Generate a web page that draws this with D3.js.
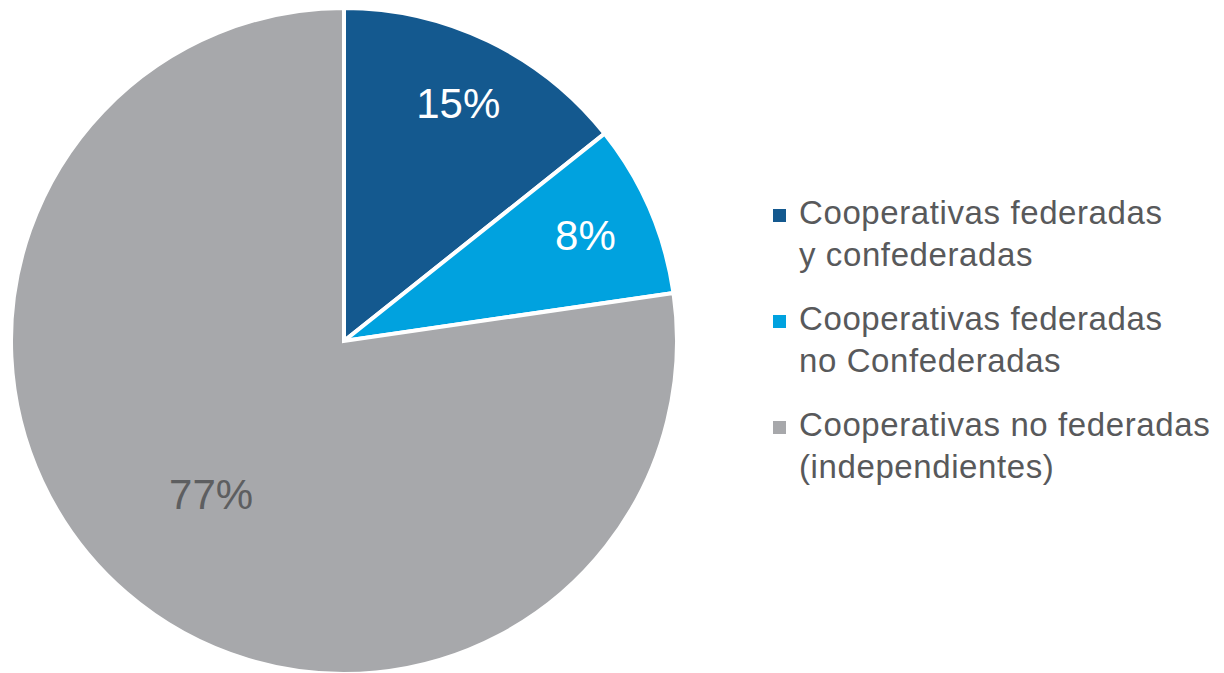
<!DOCTYPE html>
<html>
<head>
<meta charset="utf-8">
<script src="https://cdn.jsdelivr.net/npm/d3@7"></script>
<style>
  body { margin: 0; background: #fff; }
  svg { display: block; font-family: "Liberation Sans", Arial, Helvetica, sans-serif; }
</style>
</head>
<body>
<svg id="chart" width="1224" height="673"></svg>
<script>
// Data
const categories = [
    ["Cooperativas federadas", "y confederadas"],
    ["Cooperativas federadas", "no Confederadas"],
    ["Cooperativas no federadas", "(independientes)"]
];
const values = [14.3, 8.4, 77.3];
const labels = ["15%", "8%", "77%"];
const colors = ["#14598f", "#00a2df", "#a7a8ab"];
const labelColors = ["#ffffff", "#ffffff", "#5d5e60"];

// General Variables
const svg = d3.select("#chart");
const cx = 344, cy = 341, radius = 333;

const pie = d3.pie().sort(null).value(d => d);
const arc = d3.arc().innerRadius(0).outerRadius(radius);
const arcs = pie(values);

const g = svg.append("g")
    .attr("transform", "translate(" + cx + "," + cy + ")");

// slices
g.selectAll("path")
    .data(arcs).enter()
    .append("path")
    .attr("d", arc)
    .attr("fill", (d, i) => colors[i])
    .attr("stroke", "#fff")
    .attr("stroke-width", 4)
    .attr("stroke-linejoin", "miter");

// percentage labels
g.selectAll("text.pct")
    .data(arcs).enter()
    .append("text")
    .attr("class", "pct")
    .attr("transform", d => {
        const r = d.data > 50 ? radius * 0.61 : radius * 0.79;
        const a = (d.startAngle + d.endAngle) / 2;
        return "translate(" + (Math.sin(a) * r) + "," + (-Math.cos(a) * r) + ")";
    })
    .attr("text-anchor", "middle")
    .attr("dy", "0.33em")
    .attr("fill", (d, i) => labelColors[i])
    .style("font-size", "42px")
    .text((d, i) => labels[i]);

// Legend
const legend = svg.append("g").attr("transform", "translate(773,224)");
const item = legend.selectAll("g")
    .data(categories).enter()
    .append("g")
    .attr("transform", (d, i) => "translate(0," + (i * 106) + ")");

item.append("rect")
    .attr("x", 0)
    .attr("y", -15)
    .attr("width", 13)
    .attr("height", 13)
    .attr("fill", (d, i) => colors[i]);

item.append("text")
    .attr("x", 26)
    .attr("fill", "#58595b")
    .style("font-size", "33px")
    .style("letter-spacing", "0.6px")
    .selectAll("tspan")
    .data(d => d).enter()
    .append("tspan")
    .attr("x", 26)
    .attr("dy", (d, i) => i === 0 ? 0 : 42)
    .text(d => d);
</script>
</body>
</html>
